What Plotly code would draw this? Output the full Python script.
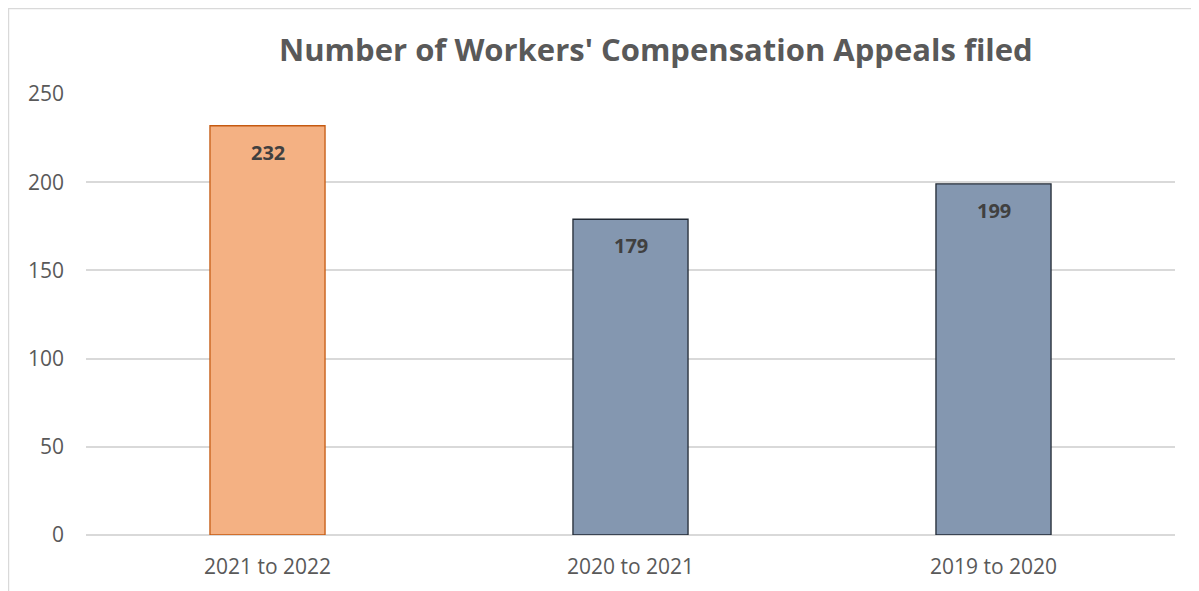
import plotly.graph_objects as go

# data
periods = ["2021 to 2022", "2020 to 2021", "2019 to 2020"]
appeals = [232, 179, 199]
fill_colors = ["#F4B183", "#8497B0", "#8497B0"]
line_colors = ["#C55A11", "#222A35", "#222A35"]

FONT = "Open Sans, Liberation Sans, sans-serif"

fig = go.Figure()

fig.add_trace(go.Bar(
    x=periods,
    y=appeals,
    width=0.317,
    marker=dict(color=fill_colors, line=dict(color=line_colors, width=1.3)),
    hoverinfo="x+y",
    showlegend=False,
))

# value labels just under the top of each bar
for p, v in zip(periods, appeals):
    fig.add_annotation(
        x=p, y=v, text=f"<b>{v}</b>", showarrow=False,
        yanchor="top", yshift=-11,
        font=dict(family=FONT, size=20, color="#404040"),
    )

# chart frame
fig.add_shape(type="rect", xref="paper", yref="paper",
              x0=-0.0712, x1=1.05, y0=-0.3, y1=1.194,
              line=dict(color="#D9D9D9", width=1.5), layer="below")

fig.update_layout(
    title=dict(text="<b>Number of Workers' Compensation Appeals filed</b>",
               x=0.544, xanchor="center", y=0.928, yanchor="middle",
               font=dict(family=FONT, size=31, color="#595959")),
    width=1191, height=583,
    margin=dict(l=78, r=24, t=86, b=56),
    plot_bgcolor="white", paper_bgcolor="white",
    font=dict(family=FONT, size=20, color="#595959"),
)
fig.update_xaxes(showgrid=False, showline=False, ticks="", ticklabelstandoff=17,
                 automargin=False, tickfont=dict(size=21, color="#595959"))
fig.update_yaxes(range=[0, 250], dtick=50, gridcolor="#D9D9D9", gridwidth=1.5,
                 zeroline=True, zerolinecolor="#D9D9D9", zerolinewidth=1.5,
                 automargin=False, ticks="", ticklabelstandoff=21,
                 tickfont=dict(size=21, color="#595959"))

fig.write_html("out.html")
